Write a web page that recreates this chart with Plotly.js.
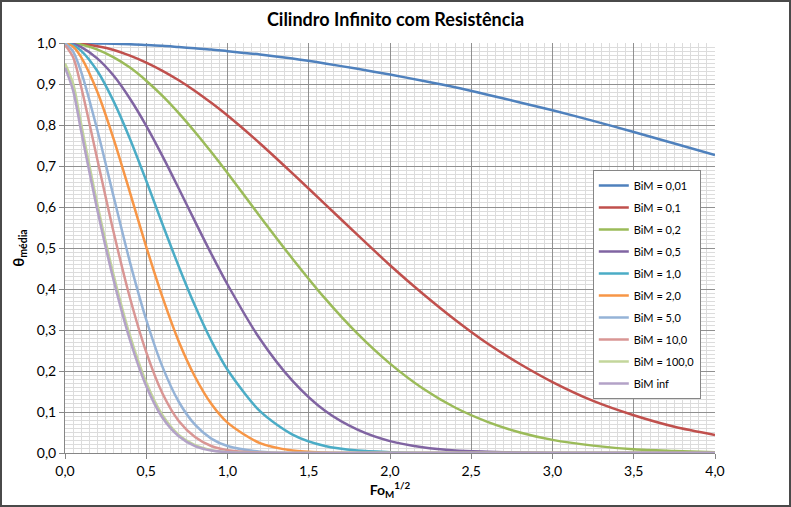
<!DOCTYPE html>
<html>
<head>
<meta charset="utf-8">
<script src="https://cdn.plot.ly/plotly-3.0.1.min.js"></script>
<style>
  body { margin: 0; background: #fff; }
  #wrap { position: relative; width: 791px; height: 507px; }
  #chart { width: 791px; height: 507px; }
  #frame { position: absolute; left: 0; top: 0; width: 791px; height: 507px;
           box-sizing: border-box; border: 2px solid #4a4a4a; pointer-events: none; }
</style>
</head>
<body>
<div id="wrap"><div id="chart"></div><div id="frame"></div></div>
<script>
var xFo = [0, 0.05, 0.1, 0.2, 0.3, 0.4, 0.5, 0.6, 0.7, 0.8, 0.9, 1.0, 1.2, 1.4, 1.6, 1.8,
           2.0, 2.2, 2.4, 2.6, 2.8, 3.0, 3.25, 3.5, 3.75, 4.0];

// theta media, one array per BiM
var bi001 = [1.000, 1.000, 1.000, 0.999, 0.998, 0.997, 0.995, 0.993, 0.990, 0.987, 0.984, 0.980, 0.972,
             0.962, 0.950, 0.937, 0.923, 0.908, 0.892, 0.874, 0.855, 0.836, 0.810, 0.783, 0.755, 0.727];
var bi01  = [1.000, 1.000, 0.998, 0.992, 0.983, 0.969, 0.952, 0.932, 0.909, 0.883, 0.854, 0.823, 0.755,
             0.682, 0.607, 0.532, 0.458, 0.389, 0.325, 0.267, 0.217, 0.173, 0.127, 0.092, 0.064, 0.044];
var bi02  = [1.000, 0.999, 0.996, 0.984, 0.965, 0.940, 0.908, 0.871, 0.829, 0.783, 0.734, 0.683, 0.577,
             0.474, 0.377, 0.291, 0.218, 0.158, 0.111, 0.076, 0.050, 0.032, 0.018, 0.009, 0.005, 0.002];
var bi05  = [1.000, 0.998, 0.990, 0.962, 0.920, 0.864, 0.798, 0.724, 0.645, 0.565, 0.486, 0.411, 0.278,
             0.176, 0.103, 0.057, 0.029, 0.014, 0.006, 0.003, 0.001, 0, 0, 0, 0, 0];
var bi1   = [1.000, 0.995, 0.981, 0.931, 0.857, 0.766, 0.664, 0.558, 0.455, 0.359, 0.274, 0.203, 0.102,
             0.045, 0.017, 0.006, 0.002, 0, 0, 0, 0, 0, 0, 0, 0, 0];
var bi2   = [1.000, 0.991, 0.965, 0.880, 0.765, 0.635, 0.503, 0.380, 0.272, 0.186, 0.120, 0.074, 0.024,
             0.006, 0.001, 0, 0, 0, 0, 0, 0, 0, 0, 0, 0, 0];
var bi5   = [1.000, 0.979, 0.929, 0.786, 0.624, 0.465, 0.325, 0.210, 0.125, 0.069, 0.035, 0.017, 0.003,
             0, 0, 0, 0, 0, 0, 0, 0, 0, 0, 0, 0, 0];
var bi10  = [0.995, 0.965, 0.892, 0.714, 0.537, 0.378, 0.246, 0.145, 0.078, 0.039, 0.017, 0.007, 0.001,
             0, 0, 0, 0, 0, 0, 0, 0, 0, 0, 0, 0, 0];
var bi100 = [0.950, 0.901, 0.801, 0.605, 0.433, 0.286, 0.172, 0.092, 0.044, 0.019, 0.007, 0.002, 0,
             0, 0, 0, 0, 0, 0, 0, 0, 0, 0, 0, 0, 0];
var biInf = [0.940, 0.884, 0.784, 0.591, 0.420, 0.275, 0.163, 0.086, 0.041, 0.017, 0.006, 0.002, 0,
             0, 0, 0, 0, 0, 0, 0, 0, 0, 0, 0, 0, 0];

var names  = ['BiM = 0,01', 'BiM = 0,1', 'BiM = 0,2', 'BiM = 0,5', 'BiM = 1,0',
              'BiM = 2,0', 'BiM = 5,0', 'BiM = 10,0', 'BiM = 100,0', 'BiM inf'];
var series = [bi001, bi01, bi02, bi05, bi1, bi2, bi5, bi10, bi100, biInf];
var colors = ['#4F81BD', '#C0504D', '#9BBB59', '#8064A2', '#4BACC6',
              '#F79646', '#95B3D7', '#D99694', '#C3D69B', '#B3A2C7'];

var data = series.map(function (ys, i) {
  return {
    x: xFo,
    y: ys,
    name: names[i],
    legendgroup: 'g' + i,
    type: 'scatter',
    mode: 'lines',
    line: { color: colors[i], width: 2.5, shape: 'spline', smoothing: 0.8 }
  };
});

var font = 'Lato, "Open Sans", sans-serif';

var layout = {
  width: 791,
  height: 507,
  margin: { l: 65, r: 76, t: 43, b: 54 },
  paper_bgcolor: '#fff',
  plot_bgcolor: '#fff',
  font: { family: font, size: 14, color: '#000' },
  separators: ',.',
  title: {
    text: '<b>Cilindro Infinito com Resistência</b>',
    font: { family: font, size: 18, color: '#000' },
    x: 0.5, xanchor: 'center', y: 0.962, yanchor: 'middle'
  },
  xaxis: {
    range: [0, 4],
    dtick: 0.5,
    tickformat: '.1f',
    showgrid: true,
    gridcolor: '#909090',
    gridwidth: 1,
    minor: { dtick: 0.05, showgrid: true, gridcolor: '#dcdcdc', gridwidth: 1 },
    showline: true, linecolor: '#868686', linewidth: 1,
    ticks: 'outside', ticklen: 5, tickcolor: '#868686',
    zeroline: false,
    title: { text: '<b>Fo<sub>M</sub><sup>1/2</sup></b>', font: { family: font, size: 14 }, standoff: 4 }
  },
  yaxis: {
    range: [0, 1],
    dtick: 0.1,
    tickformat: '.1f',
    showgrid: true,
    gridcolor: '#909090',
    gridwidth: 1,
    minor: { dtick: 0.01, showgrid: true, gridcolor: '#dcdcdc', gridwidth: 1 },
    showline: true, linecolor: '#868686', linewidth: 1,
    ticks: 'outside', ticklen: 5, tickcolor: '#868686',
    zeroline: false,
    title: { text: '<b>θ<sub>média</sub></b>', font: { family: font, size: 15 }, standoff: 8 }
  },
  legend: {
    x: 0.812, xanchor: 'left',
    y: 0.69, yanchor: 'top',
    bgcolor: '#fff',
    bordercolor: '#868686',
    borderwidth: 1,
    font: { family: font, size: 11, color: '#000' },
    itemwidth: 30,
    tracegroupgap: 3
  },
  showlegend: true
};

Plotly.newPlot('chart', data, layout, { displayModeBar: false, staticPlot: true });
</script>
</body>
</html>
